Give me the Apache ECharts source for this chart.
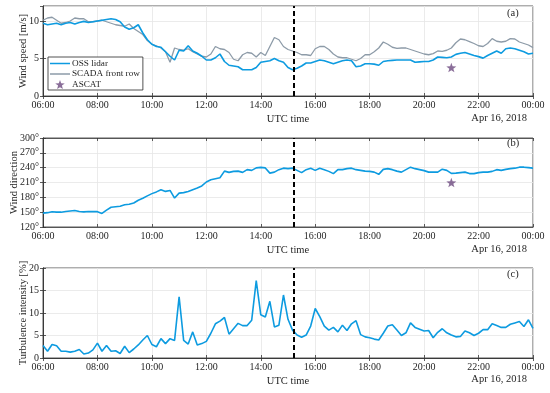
<!DOCTYPE html>
<html><head><meta charset="utf-8">
<script src="https://cdn.jsdelivr.net/npm/echarts@6/dist/echarts.min.js"></script>
<style>html,body{margin:0;padding:0;background:#fff}#c{width:550px;height:393px}</style>
</head><body><div id="c"></div>
<script>
// time axis: minutes after 06:00, 10-minute samples up to 00:00
const sampleStepMin = 10;
const sampleCount = 109;
const xTickLabels = ['06:00','08:00','10:00','12:00','14:00','16:00','18:00','20:00','22:00','00:00'];
const eventTimeMin = 552;           // 15:12 UTC (dashed line)
const ascatTimeMin = 900;           // 21:00 UTC
const ascatSpeed = [3.8];
const ascatDir = [210];

const lidarSpeed = [9.7,9.5,9.6,9.7,9.5,9.7,9.8,
 9.6,9.8,9.95,9.8,9.9,10.0,
 10.1,10.2,10.3,10.2,9.9,9.2,
 8.9,9.1,9.5,8.4,7.5,6.9,
 6.6,6.5,5.9,5.3,4.8,6.1,
 6.0,6.7,6.0,5.7,5.3,4.8,
 4.8,5.1,5.6,4.6,4.1,4.0,
 3.9,3.5,3.5,3.5,3.8,4.5,
 4.6,4.7,5.0,4.7,4.5,3.8,
 3.5,3.7,4.0,4.4,4.4,4.6,
 4.8,4.7,4.5,4.3,4.5,4.7,
 4.8,4.7,3.9,4.0,4.3,4.3,
 4.25,4.1,4.6,4.7,4.75,4.8,
 4.8,4.8,4.8,4.5,4.55,4.6,
 4.6,4.8,5.2,5.15,5.1,5.2,
 5.55,5.7,5.8,5.6,5.4,5.25,
 5.05,5.4,5.7,6.0,5.7,6.3,
 6.4,6.3,6.1,5.9,5.6,5.7];

const scadaSpeed = [10.1,10.4,10.5,10.1,9.7,9.8,10.0,
 10.4,10.3,10.3,9.9,9.9,10.0,
 10.1,9.9,9.7,9.5,9.4,9.3,
 9.6,9.0,8.6,8.2,7.4,6.9,
 6.7,6.4,5.9,4.5,6.4,6.2,
 6.1,6.3,5.9,5.6,5.3,5.2,
 5.6,6.6,6.3,6.2,5.8,4.9,
 4.7,5.5,5.8,5.7,5.2,5.8,
 5.4,6.6,7.8,7.5,6.6,6.2,
 6.0,5.8,5.5,5.5,5.4,6.3,
 6.6,6.6,6.2,5.6,5.2,5.1,
 5.1,4.9,4.7,5.0,5.5,5.5,
 5.9,6.4,7.2,6.9,6.5,6.35,
 6.4,6.4,6.2,6.0,5.8,5.6,
 5.5,5.65,6.0,5.95,6.1,6.4,
 7.1,7.6,7.5,7.25,7.0,6.7,
 6.6,7.0,7.65,7.3,7.2,7.3,
 7.65,7.6,7.2,7.0,6.8,6.45];

const lidarDir = [148,149,151,150,150,151.5,152.5,
 153.5,151.5,150.5,151.5,151,151,
 147.5,154,160,161,162,165,
 166,168.5,174,178,183,187.5,
 191,195.5,192,194,178.5,188.5,
 189.5,192,195.5,199,203,211,
 215.5,217.5,219.5,233,230.5,232.5,
 233,230.5,236,234.5,239.5,240.5,
 239.5,229,231,236,239,238,
 239,234.5,230,236,239,234.5,
 239,236,232.5,228,236,236,
 238,239,236,234.5,233,232.5,
 231,226.5,236.5,238,236,233,
 231,236,241,238,236,234,
 231,231,231,237,234.5,228.5,
 229,230,231,228,228,230,
 231,231,232.5,236,234.5,236.5,
 238,239,241,241,240,239];

const lidarTI = [2.8,1.5,3.0,2.7,1.5,1.5,1.3,
 1.5,1.9,0.9,1.1,1.8,3.3,
 1.5,2.8,1.5,1.6,1.0,2.6,
 1.2,2.0,2.9,4.0,5.0,3.0,
 2.5,4.3,3.2,4.3,3.9,13.6,
 3.9,3.1,5.8,2.9,3.2,3.7,
 5.5,7.6,8.2,9.0,5.3,6.5,
 7.7,7.2,7.2,8.4,17.2,9.6,
 9.1,12.6,6.9,7.3,14.0,8.6,
 6.2,5.1,4.6,5.1,7.1,11.0,
 9.2,7.1,6.2,6.8,5.8,7.3,
 6.1,7.6,8.3,5.2,4.7,4.5,
 4.2,4.0,5.5,7.1,7.4,6.2,
 5.0,5.6,7.8,6.8,6.4,6.0,
 6.1,4.5,5.7,6.5,5.6,5.1,
 4.7,4.8,6.0,5.6,5.0,5.5,
 6.3,6.3,7.6,7.2,6.8,6.8,
 7.5,7.8,8.1,7.0,8.5,6.6];

const panelLabels = ['(a)','(b)','(c)'];
const yNames = ['Wind speed [m/s]','Wind direction','Turbulence intensity [%]'];

const timeMin = Array.from({length: sampleCount}, (_, i) => i * sampleStepMin);
const pairs = arr => arr.map((v, i) => [timeMin[i], v]);

const FONT = '"Liberation Serif","Times New Roman",serif';
const BLUE = '#0d9be0';
const GRAY = '#8d9ba8';
const PURPLE = '#6d4a80';
const STAR = 'path://M0,-10L2.35,-3.24L9.51,-3.09L3.8,1.24L5.88,8.09L0,4.4L-5.88,8.09L-3.8,1.24L-9.51,-3.09L-2.35,-3.24Z';
const LINE_ICON = 'path://M0,0H40V3H0Z';

const grids = [
  {left: 43, top: 6, width: 490, height: 90},
  {left: 43, top: 138, width: 490, height: 89},
  {left: 43, top: 268, width: 490, height: 90}
];
const yRanges = [[0,12,5],[120,300,30],[0,20,5]];
const yNameGaps = [14, 23, 14];

const axisLineStyle = {color: '#333', width: 0.8};
const xAxes = [], yAxes = [];
grids.forEach((g, i) => {
  xAxes.push({
    gridIndex: i, type: 'value', min: 0, max: 1080, interval: 120, position: 'bottom',
    axisLine: {show: true, lineStyle: axisLineStyle},
    axisTick: {show: true, inside: true, length: 3, lineStyle: axisLineStyle},
    splitLine: {show: true, lineStyle: {color: '#e6e6e6', width: 0.8}},
    axisLabel: {color: '#262626', fontFamily: FONT, fontSize: 10, margin: 4,
      formatter: v => xTickLabels[Math.round(v / 120)]},
    name: 'UTC time', nameLocation: 'middle', nameGap: 18, nameMoveOverlap: false,
    nameTextStyle: {color: '#262626', fontFamily: FONT, fontSize: 10.5}
  });
  xAxes.push({
    gridIndex: i, type: 'value', min: 0, max: 1080, interval: 120, position: 'top',
    axisLine: {show: true, lineStyle: axisLineStyle},
    axisTick: {show: true, inside: true, length: 3, lineStyle: axisLineStyle},
    splitLine: {show: false}, axisLabel: {show: false}
  });
  const r = yRanges[i];
  yAxes.push({
    gridIndex: i, type: 'value', min: r[0], max: r[1], interval: r[2], position: 'left',
    axisLine: {show: true, lineStyle: axisLineStyle},
    axisTick: {show: true, inside: true, length: 3, lineStyle: axisLineStyle},
    splitLine: {show: true, lineStyle: {color: '#e6e6e6', width: 0.8}},
    axisLabel: {color: '#262626', fontFamily: FONT, fontSize: 10, margin: 4, showMaxLabel: i === 0 ? false : true,
      formatter: v => i === 1 ? v + '°' : String(v)},
    name: yNames[i], nameLocation: 'middle', nameGap: yNameGaps[i], nameRotate: 90, nameMoveOverlap: false,
    nameTextStyle: {color: '#262626', fontFamily: FONT, fontSize: 10.5}
  });
  yAxes.push({
    gridIndex: i, type: 'value', min: r[0], max: r[1], interval: r[2], position: 'right',
    axisLine: {show: true, lineStyle: axisLineStyle},
    axisTick: {show: true, inside: true, length: 3, lineStyle: axisLineStyle},
    splitLine: {show: false}, axisLabel: {show: false}
  });
});

const eventLine = {
  silent: true, symbol: ['none','none'], label: {show: false},
  lineStyle: {color: '#000', type: [5, 3], width: 2},
  data: [{xAxis: eventTimeMin}], animation: false
};

const lineSeries = (name, data, gi, color, width, mark) => ({
  name, type: 'line', xAxisIndex: gi * 2, yAxisIndex: gi * 2, data: pairs(data),
  symbol: 'none', lineStyle: {color, width}, itemStyle: {color},
  animation: false, z: name === 'OSS lidar' ? 4 : 3,
  markLine: mark ? eventLine : undefined
});

const series = [
  lineSeries('SCADA front row', scadaSpeed, 0, GRAY, 1.3, false),
  lineSeries('OSS lidar', lidarSpeed, 0, BLUE, 1.6, true),
  {name: 'ASCAT', type: 'scatter', xAxisIndex: 0, yAxisIndex: 0,
   data: ascatSpeed.map(v => [ascatTimeMin, v]), symbol: STAR, symbolSize: 10, symbolKeepAspect: true,
   itemStyle: {color: PURPLE}, animation: false, z: 5},
  lineSeries('OSS lidar', lidarDir, 1, BLUE, 1.6, true),
  {name: 'ASCAT', type: 'scatter', xAxisIndex: 2, yAxisIndex: 2,
   data: ascatDir.map(v => [ascatTimeMin, v]), symbol: STAR, symbolSize: 10, symbolKeepAspect: true,
   itemStyle: {color: PURPLE}, animation: false, z: 5},
  lineSeries('OSS lidar', lidarTI, 2, BLUE, 1.6, true)
];

const graphics = [];
const labelYs = [15, 145, 276];
panelLabels.forEach((t, i) => graphics.push({
  type: 'text', left: 507, top: labelYs[i] - 7,
  style: {text: t, font: '10.5px ' + FONT, fill: '#262626'}
}));
const dateYs = [120, 251, 381];
dateYs.forEach(y => graphics.push({
  type: 'text', right: 23, top: y - 7,
  style: {text: 'Apr 16, 2018', font: '10.5px ' + FONT, fill: '#262626'}
}));

const chart = echarts.init(document.getElementById('c'), null, {renderer: 'canvas'});
chart.setOption({
  animation: false,
  grid: grids.map(g => Object.assign({show: true, borderColor: '#333', borderWidth: 0.8, backgroundColor: '#fff', outerBoundsMode: 'none', containLabel: false}, g)),
  xAxis: xAxes, yAxis: yAxes,
  legend: {
    data: [
      {name: 'OSS lidar', icon: LINE_ICON, itemStyle: {color: BLUE}},
      {name: 'SCADA front row', icon: LINE_ICON, itemStyle: {color: GRAY}},
      {name: 'ASCAT', icon: STAR, itemStyle: {color: PURPLE}}
    ],
    orient: 'vertical', left: 48, top: 57,
    itemWidth: 20, itemHeight: 9, itemGap: 1.5, padding: [2, 3, 1, 2], symbolKeepAspect: true,
    backgroundColor: '#fff', borderColor: '#262626', borderWidth: 0.8, borderRadius: 0,
    textStyle: {fontFamily: FONT, fontSize: 9.2, color: '#262626', padding: [0,0,0,-3]},
    selectedMode: false
  },
  graphic: graphics,
  series
});
</script></body></html>
